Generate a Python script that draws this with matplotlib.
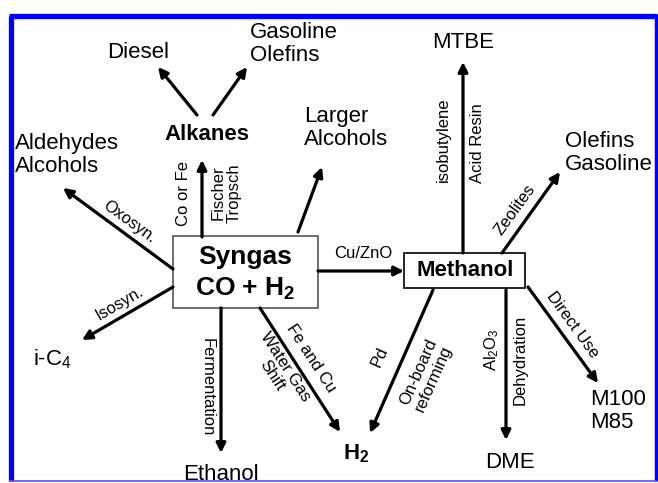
import matplotlib
matplotlib.use("Agg")
import matplotlib.pyplot as plt
from matplotlib.patches import Rectangle

plt.rcParams['font.family'] = ['Liberation Sans', 'DejaVu Sans']
plt.rcParams['mathtext.fontset'] = 'custom'
plt.rcParams['mathtext.rm'] = 'Liberation Sans'
plt.rcParams['mathtext.it'] = 'Liberation Sans'
plt.rcParams['mathtext.bf'] = 'Liberation Sans:bold'

# product labels: text, x, y, bold, horizontal alignment
products = [
    ("Diesel", 138, 53, False, 'center'),
    ("Gasoline\nOlefins", 250, 44, False, 'left'),
    ("Alkanes", 207, 134, True, 'center'),
    ("Aldehydes\nAlcohols", 15, 155, False, 'left'),
    ("Larger\nAlcohols", 304, 128, False, 'left'),
    ("MTBE", 463, 43, False, 'center'),
    ("Olefins\nGasoline", 565, 153, False, 'left'),
    ("i-C$_4$", 52, 359, False, 'center'),
    ("Ethanol", 221, 474, False, 'center'),
    ("H$_\\mathbf{2}$", 356, 454, True, 'center'),
    ("DME", 510, 463, False, 'center'),
    ("M100\nM85", 590, 411, False, 'left'),
]

# arrows: (x_start, y_start, x_end, y_end)
arrows = [
    (197, 115, 158, 67),    # Alkanes -> Diesel
    (213, 115, 247, 67),    # Alkanes -> Gasoline
    (202, 237, 202, 160),   # Syngas -> Alkanes
    (298, 232, 322, 167),   # Syngas -> Larger Alcohols
    (173, 269, 63, 188),    # Syngas -> Aldehydes
    (173, 287, 82, 340),    # Syngas -> i-C4
    (221, 308, 221, 453),   # Syngas -> Ethanol
    (260, 308, 340, 432),   # Syngas -> H2
    (318, 271, 404, 271),   # Syngas -> Methanol
    (433, 290, 370, 433),   # Methanol -> H2
    (506, 290, 506, 440),   # Methanol -> DME
    (528, 287, 598, 383),   # Methanol -> M100
    (463, 253, 463, 62),    # Methanol -> MTBE
    (502, 253, 560, 172),   # Methanol -> Olefins
]

# reaction labels: text, x, y, rotation
conditions = [
    ("Co or Fe", 184, 193, 90),
    ("Fischer\nTropsch", 226, 193, 90),
    ("Oxosyn.", 129, 222, -36),
    ("Isosyn.", 120, 303, 30),
    ("Fermentation", 207, 387, -90),
    ("Fe and Cu", 311, 358, -57),
    ("Water Gas\nShift", 279, 371, -57),
    ("Cu/ZnO", 363, 254, 0),
    ("Pd", 380, 357, 66),
    ("On-board\nreforming", 426, 375, 66),
    ("Al$_2$O$_3$", 492, 350, 90),
    ("Dehydration", 520, 360, 90),
    ("Direct Use", 572, 325, -54),
    ("isobutylene", 443, 140, 90),
    ("Acid Resin", 477, 143, 90),
    ("Zeolites", 515, 210, 54),
]

fig = plt.figure(figsize=(6.58, 4.83), dpi=100)
ax = fig.add_axes([0, 0, 1, 1])
ax.set_xlim(0, 658)
ax.set_ylim(483, 0)
ax.axis('off')

# boxes
ax.add_patch(Rectangle((173, 236), 145, 72, facecolor='white', edgecolor='#555555', lw=1.2, zorder=3))
ax.text(245, 257, "Syngas", ha='center', va='center', fontsize=19, fontweight='bold', zorder=4)
ax.text(245, 289, "CO + H$_\\mathbf{2}$", ha='center', va='center', fontsize=19,
        fontweight='bold', zorder=4)
ax.add_patch(Rectangle((404, 253), 121, 35, facecolor='white', edgecolor='black', lw=1.2, zorder=3))
ax.text(465, 271, "Methanol", ha='center', va='center', fontsize=16, fontweight='bold', zorder=4)

for x0, y0, x1, y1 in arrows:
    ax.annotate("", xy=(x1, y1), xytext=(x0, y0),
                arrowprops=dict(arrowstyle='-|>', lw=2.3, color='black',
                                mutation_scale=14, shrinkA=0, shrinkB=0))

for txt, x, y, bold, ha in products:
    ax.text(x, y, txt, ha=ha, va='center', fontsize=16,
            fontweight='bold' if bold else 'normal', linespacing=1.15)

for txt, x, y, rot in conditions:
    ax.text(x, y, txt, ha='center', va='center', fontsize=12, rotation=rot,
            rotation_mode='anchor', linespacing=1.1)

# blue frame: heavy on top and left, lighter on right and bottom
ax.plot([10.5, 10.5], [481, 15.5], color='#0000ff', lw=3.8, solid_capstyle='butt', zorder=5)
ax.plot([8.5, 656.5], [15.5, 15.5], color='#0000ff', lw=3.8, solid_capstyle='butt', zorder=5)
ax.plot([655.5, 655.5], [13.5, 481], color='#0000ff', lw=2.5, solid_capstyle='butt', zorder=5)
ax.plot([8.5, 657], [481, 481], color='#5050ff', lw=1.2, solid_capstyle='butt', zorder=5)

fig.savefig("out.png", dpi=100)
